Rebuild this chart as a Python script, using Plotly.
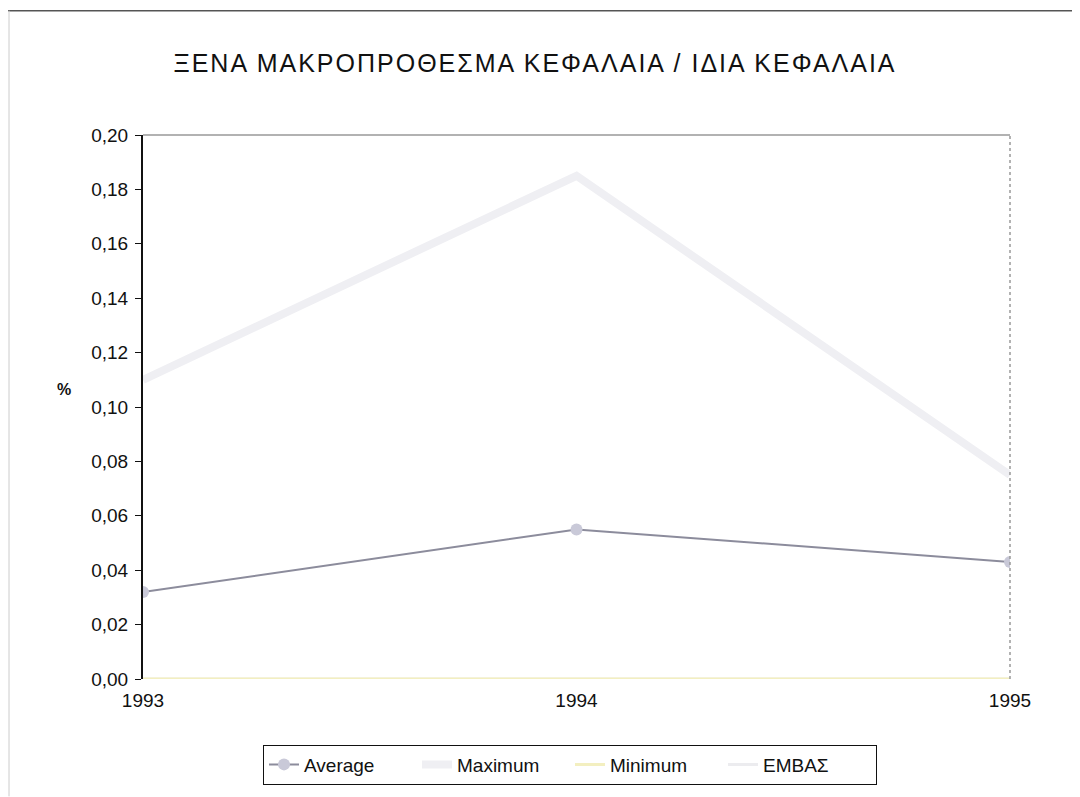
import plotly.graph_objects as go

years = ["1993", "1994", "1995"]
average = [0.032, 0.055, 0.043]
maximum = [0.110, 0.185, 0.075]
minimum = [0.000, 0.000, 0.000]
embas = [0.000, 0.000, 0.000]
y_ticks = [0.00, 0.02, 0.04, 0.06, 0.08, 0.10, 0.12, 0.14, 0.16, 0.18, 0.20]

FONT = "Liberation Sans, Arial, sans-serif"
OFF = 8  # page body margin

fig = go.Figure()
fig.add_trace(go.Scatter(x=years, y=embas, name="ΕΜΒΑΣ", mode="lines",
                         line=dict(color="#ececef", width=3)))
fig.add_trace(go.Scatter(x=years, y=minimum, name="Minimum", mode="lines",
                         line=dict(color="#f3efc0", width=3)))
fig.add_trace(go.Scatter(x=years, y=maximum, name="Maximum", mode="lines",
                         line=dict(color="#efeff3", width=8)))
fig.add_trace(go.Scatter(x=years, y=average, name="Average", mode="lines+markers",
                         line=dict(color="#8c8c9c", width=2),
                         marker=dict(color="#c9c9d8", size=12, symbol="circle")))

def px_x(p):
    return (p - 143) / 867.0

def px_y(p):
    return (682 - p) / 547.0

shapes = [
    # outer frame
    dict(type="line", xref="paper", yref="paper", x0=px_x(0), x1=px_x(1090), y0=px_y(10), y1=px_y(10),
         line=dict(color="#555555", width=1.5)),
    dict(type="line", xref="paper", yref="paper", x0=px_x(9), x1=px_x(9), y0=px_y(10), y1=px_y(800),
         line=dict(color="#cccccc", width=1)),
    # plot area border (top & right)
    dict(type="line", xref="paper", yref="paper", x0=0, x1=1, y0=1, y1=1,
         line=dict(color="#999999", width=1.5)),
    dict(type="line", xref="paper", yref="paper", x0=1, x1=1, y0=0, y1=1,
         line=dict(color="#999999", width=1.5, dash="dot")),
]

title_text = ('<span style="letter-spacing:2px">'
              'ΞΕΝΑ ΜΑΚΡΟΠΡΟΘΕΣΜΑ ΚΕΦΑΛΑΙΑ / ΙΔΙΑ ΚΕΦΑΛΑΙΑ</span>')

fig.update_layout(
    width=1080 - OFF, height=797 - OFF,
    margin=dict(l=143 - OFF, r=70, t=135 - OFF, b=115),
    paper_bgcolor="white", plot_bgcolor="white",
    separators=",.",
    font=dict(family=FONT, color="#111111"),
    title=dict(text=title_text,
               x=(535 - OFF) / (1080 - OFF), xref="container", xanchor="center",
               y=1 - (63 - OFF) / (797 - OFF), yref="container", yanchor="middle",
               font=dict(size=25, family=FONT, color="#111111")),
    xaxis=dict(type="category", range=[0, 2], showgrid=False, zeroline=False,
               showline=False, ticks="", tickfont=dict(size=19), ticklabelstandoff=8),
    yaxis=dict(range=[0, 0.2], tickvals=y_ticks, tickformat=".2f", showgrid=False,
               zeroline=False, showline=True, linecolor="#111111", linewidth=2,
               ticks="outside", ticklen=6, tickcolor="#111111",
               tickfont=dict(size=19), ticklabelstandoff=3),
    legend=dict(orientation="h", x=px_x(570), xanchor="center", y=px_y(768), yanchor="middle",
                bordercolor="#111111", borderwidth=1, font=dict(size=19),
                traceorder="reversed", entrywidth=108, entrywidthmode="pixels",
                tracegroupgap=0),
    shapes=shapes,
    annotations=[dict(text="<b>%</b>", xref="paper", yref="paper", x=px_x(64), y=px_y(391),
                      xanchor="center", yanchor="middle",
                      showarrow=False, font=dict(size=16, family=FONT))],
)

fig.write_html("out.html")
